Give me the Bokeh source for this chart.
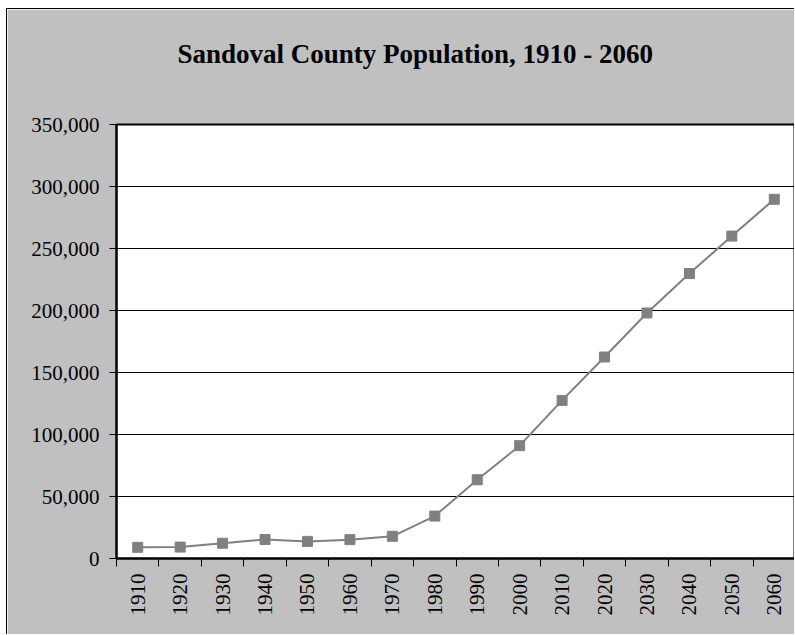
import math
from bokeh.plotting import figure
from bokeh.models import Range1d, FixedTicker, NumeralTickFormatter, ColumnDataSource, Title
from bokeh.embed import file_html
from bokeh.resources import INLINE

years = ["1910", "1920", "1930", "1940", "1950", "1960", "1970", "1980",
         "1990", "2000", "2010", "2020", "2030", "2040", "2050", "2060"]
population = [9000, 9200, 12300, 15300, 13800, 15200, 17900, 34200,
              63500, 91000, 127500, 162500, 198000, 229800, 260000, 289700]
y_ticks = [0, 50000, 100000, 150000, 200000, 250000, 300000, 350000]
title_text = "Sandoval County Population, 1910 - 2060"

xs = [i + 0.5 for i in range(len(years))]
src = ColumnDataSource(dict(x=xs, y=population))

GRAY_BG = "#C0C0C0"
SERIF = "Times New Roman"

p = figure(width=788, height=626, output_backend="svg", toolbar_location=None,
           x_range=Range1d(0, len(years)), y_range=Range1d(0, 350000),
           min_border_left=109, min_border_right=0, min_border_top=115,
           min_border_bottom=77, margin=(8, 0, 0, 6))
p.styles = {"border-left": "1px solid black", "border-top": "1px solid black"}

p.background_fill_color = "white"
p.border_fill_color = GRAY_BG
p.outline_line_color = "black"
p.outline_line_width = 2

# spacer between the frame and the chart title, then the title itself
spacer = Title(text=" ", text_font_size="1px", standoff=53, text_color=GRAY_BG)
p.add_layout(spacer, "above")
main_title = Title(text=title_text, align="left", offset=61, standoff=0,
                   text_font=SERIF, text_font_size="27px", text_font_style="bold",
                   text_color="black")
p.add_layout(main_title, "above")

# grid
p.xgrid.visible = False
p.ygrid.ticker = FixedTicker(ticks=y_ticks)
p.ygrid.grid_line_color = "black"
p.ygrid.grid_line_width = 1

# y axis
ya = p.yaxis[0]
ya.ticker = FixedTicker(ticks=y_ticks)
ya.formatter = NumeralTickFormatter(format="0,0")
ya.axis_line_color = "black"
ya.axis_line_width = 2
ya.major_tick_in = 0
ya.major_tick_out = 7
ya.major_tick_line_color = "black"
ya.major_tick_line_width = 1
ya.minor_tick_line_color = None
ya.major_label_text_font = SERIF
ya.major_label_text_font_style = "normal"
ya.major_label_text_font_size = "21px"
ya.major_label_text_color = "black"
ya.major_label_standoff = 10

# x axis: labels at category centres, ticks at category boundaries
xa = p.xaxis[0]
xa.ticker = FixedTicker(ticks=xs, minor_ticks=list(range(len(years) + 1)))
xa.major_label_overrides = {x: y for x, y in zip(xs, years)}
xa.axis_line_color = "black"
xa.axis_line_width = 2
xa.major_tick_in = 0
xa.major_tick_out = 0
xa.minor_tick_in = 0
xa.minor_tick_out = 8
xa.minor_tick_line_color = "black"
xa.minor_tick_line_width = 1
xa.major_label_orientation = math.pi / 2
xa.major_label_text_font = SERIF
xa.major_label_text_font_style = "normal"
xa.major_label_text_font_size = "21px"
xa.major_label_text_color = "black"
xa.major_label_standoff = 7

p.line("x", "y", source=src, line_color="#808080", line_width=2)
p.scatter("x", "y", source=src, marker="square", size=10,
          fill_color="#808080", line_color="#808080")

open("out.html", "w").write(file_html(p, INLINE))
